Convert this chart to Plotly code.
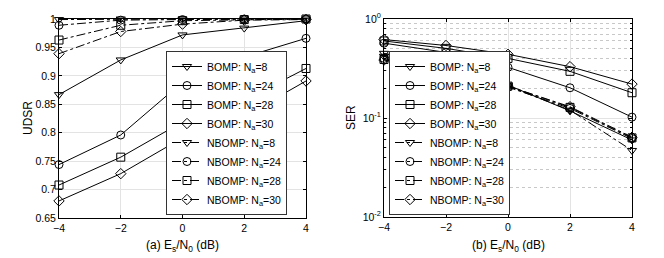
import plotly.graph_objects as go

snr = [-4, -2, 0, 2, 4]

udsr_bomp_8 = [0.867, 0.928, 0.972, 0.984, 0.997]
udsr_bomp_24 = [0.744, 0.796, 0.889, 0.933, 0.966]
udsr_bomp_28 = [0.708, 0.757, 0.819, 0.857, 0.913]
udsr_bomp_30 = [0.680, 0.728, 0.791, 0.829, 0.891]
udsr_nbomp_8 = [0.999, 1.0, 1.0, 1.0, 1.0]
udsr_nbomp_24 = [0.989, 0.998, 0.999, 1.0, 1.0]
udsr_nbomp_28 = [0.963, 0.989, 0.997, 0.999, 1.0]
udsr_nbomp_30 = [0.939, 0.978, 0.991, 0.998, 0.999]

ser_bomp_8 = [0.45, 0.34, 0.215, 0.118, 0.060]
ser_bomp_24 = [0.57, 0.46, 0.325, 0.202, 0.102]
ser_bomp_28 = [0.60, 0.505, 0.40, 0.296, 0.18]
ser_bomp_30 = [0.62, 0.54, 0.44, 0.33, 0.22]
ser_nbomp_8 = [0.42, 0.31, 0.21, 0.12, 0.047]
ser_nbomp_24 = [0.40, 0.30, 0.205, 0.125, 0.062]
ser_nbomp_28 = [0.39, 0.30, 0.21, 0.128, 0.063]
ser_nbomp_30 = [0.385, 0.295, 0.21, 0.13, 0.064]

x_ticks = [-4, -2, 0, 2, 4]
udsr_ticks = [0.65, 0.7, 0.75, 0.8, 0.85, 0.9, 0.95, 1]
udsr_ticktext = ["0.65", "0.7", "0.75", "0.8", "0.85", "0.9", "0.95", "1"]
ser_ticks = [0.01, 0.1, 1]
ser_ticktext = ["10<sup>-2</sup>", "10<sup>-1</sup>", "10<sup>0</sup>"]
ser_minor_ticks = [0.02, 0.03, 0.04, 0.05, 0.06, 0.07, 0.08, 0.09,
                   0.2, 0.3, 0.4, 0.5, 0.6, 0.7, 0.8, 0.9]

names = ["BOMP: N<sub>a</sub>=8", "BOMP: N<sub>a</sub>=24", "BOMP: N<sub>a</sub>=28", "BOMP: N<sub>a</sub>=30",
         "NBOMP: N<sub>a</sub>=8", "NBOMP: N<sub>a</sub>=24", "NBOMP: N<sub>a</sub>=28", "NBOMP: N<sub>a</sub>=30"]
symbols = ["triangle-down-open", "circle-open", "square-open", "diamond-open"] * 2
dashes = ["solid"] * 4 + ["dashdot"] * 4

udsr_series = [udsr_bomp_8, udsr_bomp_24, udsr_bomp_28, udsr_bomp_30,
               udsr_nbomp_8, udsr_nbomp_24, udsr_nbomp_28, udsr_nbomp_30]
ser_series = [ser_bomp_8, ser_bomp_24, ser_bomp_28, ser_bomp_30,
              ser_nbomp_8, ser_nbomp_24, ser_nbomp_28, ser_nbomp_30]

fig = go.Figure()
for i in range(8):
    fig.add_trace(go.Scatter(x=snr, y=udsr_series[i], name=names[i], mode="lines+markers",
                             line=dict(color="black", width=1, dash=dashes[i]),
                             marker=dict(symbol=symbols[i], size=8, color="black", line=dict(width=1)),
                             cliponaxis=False, xaxis="x", yaxis="y", legend="legend"))
for i in range(8):
    fig.add_trace(go.Scatter(x=snr, y=ser_series[i], name=names[i], mode="lines+markers",
                             line=dict(color="black", width=1, dash=dashes[i]),
                             marker=dict(symbol=symbols[i], size=8, color="black", line=dict(width=1)),
                             cliponaxis=False, xaxis="x2", yaxis="y2", legend="legend2"))

W, H = 664, 258


def px(X):
    return X / W


def py(Y):
    return 1 - Y / H


font = "Liberation Sans, Arial, sans-serif"
axcommon = dict(showline=True, linecolor="black", linewidth=1, mirror="ticks", ticks="inside",
                ticklen=3, tickcolor="black", tickfont=dict(size=10.5, color="black"),
                gridcolor="#e3e3e3", gridwidth=1, zeroline=False, automargin=False)

legcommon = dict(bgcolor="white", bordercolor="#333333", borderwidth=1,
                 font=dict(size=10.5, color="black", family=font),
                 itemwidth=30, tracegroupgap=0, xanchor="left", yanchor="bottom")

fig.update_layout(
    width=W, height=H, margin=dict(l=0, r=0, t=0, b=0),
    paper_bgcolor="white", plot_bgcolor="white",
    font=dict(family=font, color="black"),
    xaxis=dict(domain=[px(59), px(306)], range=[-4, 4], tickvals=x_ticks, anchor="y", **axcommon),
    yaxis=dict(domain=[py(218), py(19)], range=[0.65, 1], tickvals=udsr_ticks, ticktext=udsr_ticktext,
               anchor="x", **axcommon),
    xaxis2=dict(domain=[px(384), px(632)], range=[-4, 4], tickvals=x_ticks, anchor="y2", **axcommon),
    yaxis2=dict(domain=[py(217), py(19)], type="log", range=[-2, 0], tickvals=ser_ticks, ticktext=ser_ticktext,
                anchor="x2",
                minor=dict(tickvals=ser_minor_ticks, showgrid=True, griddash="dot", gridcolor="#c8c8c8",
                           ticks="inside", ticklen=2, tickcolor="black"),
                **axcommon),
    legend=dict(x=px(166), y=py(215), **legcommon),
    legend2=dict(x=px(389), y=py(215), **legcommon),
    annotations=[
        dict(text="(a) E<sub>s</sub>/N<sub>0</sub> (dB)", x=px((59 + 306) / 2), y=py(246), xref="paper",
             yref="paper", showarrow=False, font=dict(size=12), xanchor="center", yanchor="middle"),
        dict(text="(b) E<sub>s</sub>/N<sub>0</sub> (dB)", x=px((384 + 632) / 2), y=py(246), xref="paper",
             yref="paper", showarrow=False, font=dict(size=12), xanchor="center", yanchor="middle"),
        dict(text="UDSR", x=px(28), y=py(118), xref="paper", yref="paper", showarrow=False,
             font=dict(size=12), textangle=-90, xanchor="center", yanchor="middle"),
        dict(text="SER", x=px(351), y=py(118), xref="paper", yref="paper", showarrow=False,
             font=dict(size=12), textangle=-90, xanchor="center", yanchor="middle"),
    ],
)

fig.write_html("out.html", config={"displayModeBar": False},
               post_script="document.body.style.margin='0';document.body.style.overflow='hidden';")
